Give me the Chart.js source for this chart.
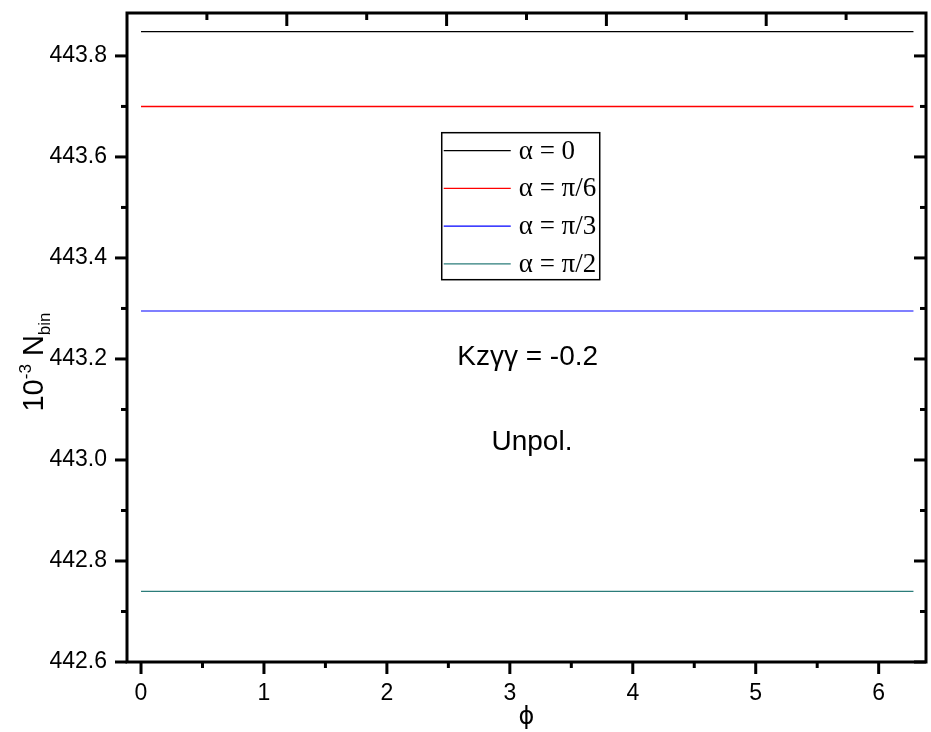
<!DOCTYPE html>
<html>
<head>
<meta charset="utf-8">
<script src="https://cdn.jsdelivr.net/npm/chart.js@4.4.0/dist/chart.umd.min.js"></script>
<style>
  html, body { margin: 0; padding: 0; background: #fff; }
  #wrap { width: 931px; height: 732px; position: relative; }
</style>
</head>
<body>
<div id="wrap"><canvas id="myChart"></canvas></div>
<script>
// data
const phi = [0, 6.283];
const alpha0 = [443.848, 443.848];
const alphaPi6 = [443.700, 443.700];
const alphaPi3 = [443.295, 443.295];
const alphaPi2 = [442.740, 442.740];
const seriesLabels = ['α = 0', 'α = π/6', 'α = π/3', 'α = π/2'];
const seriesColors = ['#000000', '#ff0000', '#0000ff', '#2b7c7a'];

// axis ticks
const yMajor = [442.6, 442.8, 443.0, 443.2, 443.4, 443.6, 443.8];
const yMinor = [442.7, 442.9, 443.1, 443.3, 443.5, 443.7];
const xMajor = [0, 1, 2, 3, 4, 5, 6];
const xMinor = [0.5, 1.5, 2.5, 3.5, 4.5, 5.5];
const topMajor = [1, 2, 3, 4];
const topMinor = [0.5, 1.5, 2.5, 3.5, 4.5];

const ctx = document.getElementById('myChart');

const toPoints = (ys) => phi.map((p, i) => ({ x: p, y: ys[i] }));

// frame + tick marks (Origin style)
const frameTicks = {
  id: 'frameTicks',
  afterDatasetsDraw(chart) {
    const c = chart.ctx, a = chart.chartArea, s = chart.scales;
    c.save();
    c.strokeStyle = '#000';
    c.lineWidth = 3;
    const seg = (x1, y1, x2, y2) => { c.beginPath(); c.moveTo(x1, y1); c.lineTo(x2, y2); c.stroke(); };
    yMajor.forEach(v => {
      const y = s.y.getPixelForValue(v);
      seg(a.left - 12, y, a.left, y);
      seg(a.right, y, a.right - 12, y);
    });
    yMinor.forEach(v => {
      const y = s.y.getPixelForValue(v);
      seg(a.left - 6, y, a.left, y);
      seg(a.right, y, a.right - 6, y);
    });
    xMajor.forEach(v => { const x = s.x.getPixelForValue(v); seg(x, a.bottom, x, a.bottom + 12); });
    xMinor.forEach(v => { const x = s.x.getPixelForValue(v); seg(x, a.bottom, x, a.bottom + 6); });
    topMajor.forEach(v => { const x = s.x2.getPixelForValue(v); seg(x, a.top, x, a.top + 13); });
    topMinor.forEach(v => { const x = s.x2.getPixelForValue(v); seg(x, a.top, x, a.top + 7); });
    c.strokeRect(a.left, a.top, a.right - a.left, a.bottom - a.top);

    // axis titles
    c.fillStyle = '#000';
    c.font = '24px "DejaVu Sans", sans-serif';
    c.textAlign = 'center';
    c.textBaseline = 'middle';
    c.fillText('ϕ', (a.left + a.right) / 2, 718);

    c.translate(33, 362);
    c.rotate(-Math.PI / 2);
    const big = '29px "Liberation Sans", Arial, sans-serif';
    const small = '17px "Liberation Sans", Arial, sans-serif';
    const parts = [['10', big, 0], ['-3', small, -12], [' N', big, 0], ['bin', small, 7]];
    let w = 0;
    parts.forEach(p => { c.font = p[1]; w += c.measureText(p[0]).width; });
    let x = -w / 2;
    c.textAlign = 'left';
    c.textBaseline = 'alphabetic';
    parts.forEach(p => { c.font = p[1]; c.fillText(p[0], x, 10 + p[2]); x += c.measureText(p[0]).width; });
    c.restore();
  }
};

// legend box + text notes
const notes = {
  id: 'notes',
  afterDraw(chart) {
    const c = chart.ctx, s = chart.scales;
    c.save();
    const bx = s.x.getPixelForValue(2.446), by = s.y.getPixelForValue(443.648);
    c.strokeStyle = '#000';
    c.lineWidth = 1.5;
    c.strokeRect(bx, by, 158, 147);
    c.font = '27px "Liberation Serif", "Times New Roman", serif';
    c.textBaseline = 'middle';
    c.textAlign = 'left';
    chart.data.datasets.forEach((ds, i) => {
      const y = by + 18 + i * 37.7;
      c.strokeStyle = ds.borderColor;
      c.lineWidth = 1.2;
      c.beginPath(); c.moveTo(bx + 2, y); c.lineTo(bx + 69, y); c.stroke();
      c.fillStyle = '#000';
      c.fillText(ds.label, bx + 77, y + 1);
    });

    c.font = '28px "Liberation Sans", Arial, sans-serif';
    c.textAlign = 'center';
    c.fillText('Kzγγ = -0.2', s.x.getPixelForValue(3.145), s.y.getPixelForValue(443.204));
    c.fillText('Unpol.', s.x.getPixelForValue(3.18), s.y.getPixelForValue(443.036));
    c.restore();
  }
};

const mkSet = (i, ys) => ({
  label: seriesLabels[i],
  data: toPoints(ys),
  borderColor: seriesColors[i],
  borderWidth: i === 1 ? 1.5 : 1.2,
  pointRadius: 0,
  tension: 0,
  fill: false
});

const tickFont = { family: '"Liberation Sans", Arial, sans-serif', size: 23 };
const noPad = (sc) => { sc.paddingTop = 0; sc.paddingBottom = 0; sc.paddingLeft = 0; sc.paddingRight = 0; };

new Chart(ctx, {
  type: 'line',
  data: {
    datasets: [
      mkSet(0, alpha0),
      mkSet(1, alphaPi6),
      mkSet(2, alphaPi3),
      mkSet(3, alphaPi2)
    ]
  },
  options: {
    responsive: true,
    maintainAspectRatio: false,
    animation: false,
    layout: { padding: { top: 13, right: 5, left: 0, bottom: 0 } },
    plugins: { legend: { display: false }, tooltip: { enabled: false } },
    scales: {
      x: {
        type: 'linear',
        position: 'bottom',
        min: -0.114,
        max: 6.385,
        afterBuildTicks: (sc) => { sc.ticks = xMajor.map(v => ({ value: v })); },
        afterFit: (sc) => { sc.height = 70; noPad(sc); },
        ticks: { font: tickFont, color: '#000', padding: 18, maxRotation: 0 },
        grid: { display: false, drawTicks: false },
        border: { display: false }
      },
      x2: {
        type: 'linear',
        position: 'top',
        min: 0,
        max: 5,
        afterFit: (sc) => { sc.height = 0; noPad(sc); },
        ticks: { display: false },
        grid: { display: false, drawTicks: false },
        border: { display: false }
      },
      y: {
        type: 'linear',
        min: 442.6,
        max: 443.885,
        afterBuildTicks: (sc) => { sc.ticks = yMajor.map(v => ({ value: v })); },
        afterFit: (sc) => { sc.width = 127; noPad(sc); },
        ticks: { font: tickFont, color: '#000', padding: 20, callback: (v) => v.toFixed(1) },
        grid: { display: false, drawTicks: false },
        border: { display: false }
      }
    }
  },
  plugins: [frameTicks, notes]
});
</script>
</body>
</html>
